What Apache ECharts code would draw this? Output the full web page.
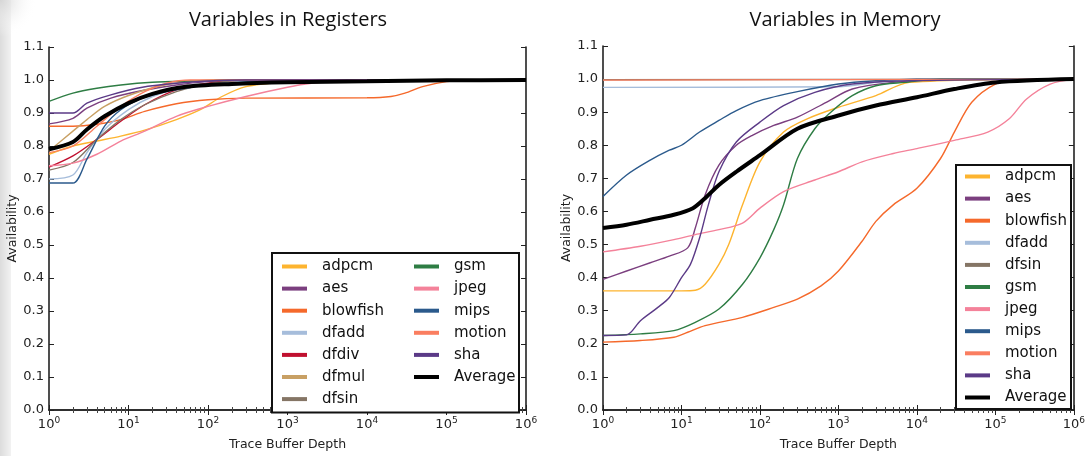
<!DOCTYPE html>
<html>
<head>
<meta charset="utf-8">
<script src="https://cdn.jsdelivr.net/npm/echarts@6/dist/echarts.min.js"></script>
<style>
  html, body { margin: 0; padding: 0; background: #fff; }
  #chart { width: 1088px; height: 456px; }
</style>
</head>
<body>
<div id="chart"></div>
<script>
// titles / axis text
const titles = ['Variables in Registers', 'Variables in Memory'];
const yTicks = [0, 0.1, 0.2, 0.3, 0.4, 0.5, 0.6, 0.7, 0.8, 0.9, 1.0, 1.1];

// [trace buffer depth, availability] -- registers
const regAdpcm = [[1,0.775],[2,0.80],[4,0.815],[8,0.83],[16,0.848],[40,0.88],[80,0.91],[150,0.95],[300,0.98],[1000,0.995],[3000,1.0],[1e6,1.0]];
const regAes = [[1,0.867],[2,0.884],[3,0.915],[6,0.945],[15,0.968],[40,0.985],[100,0.995],[300,1.0],[1e6,1.0]];
const regBlowfish = [[1,0.86],[2,0.86],[4,0.866],[8,0.88],[16,0.905],[40,0.928],[100,0.94],[300,0.945],[1e4,0.946],[2e4,0.95],[3e4,0.96],[5e4,0.98],[1e5,0.995],[2e5,1.0],[1e6,1.0]];
const regDfadd = [[1,0.70],[2,0.712],[3,0.78],[5,0.85],[10,0.91],[20,0.95],[50,0.98],[150,0.995],[500,1.0],[1e6,1.0]];
const regDfdiv = [[1,0.736],[2,0.77],[4,0.82],[8,0.875],[16,0.925],[40,0.97],[100,0.99],[300,1.0],[1e6,1.0]];
const regDfmul = [[1,0.785],[2,0.845],[3,0.88],[5,0.92],[10,0.953],[25,0.982],[80,0.998],[200,1.0],[1e6,1.0]];
const regDfsin = [[1,0.727],[2,0.75],[4,0.82],[8,0.88],[16,0.925],[40,0.965],[100,0.988],[300,1.0],[1e6,1.0]];
const regGsm = [[1,0.935],[2,0.96],[4,0.975],[8,0.985],[20,0.993],[60,0.997],[200,1.0],[1e6,1.0]];
const regJpeg = [[1,0.74],[2,0.748],[4,0.775],[8,0.815],[16,0.845],[40,0.89],[100,0.92],[300,0.95],[1000,0.978],[2000,0.99],[6000,1.0],[1e6,1.0]];
const regMips = [[1,0.688],[2,0.688],[3,0.76],[5,0.86],[8,0.91],[15,0.945],[30,0.965],[100,0.985],[500,0.997],[2000,1.0],[1e6,1.0]];
const regMotion = [[1,0.78],[2,0.80],[4,0.86],[8,0.92],[16,0.965],[30,0.99],[60,1.0],[1e6,1.0]];
const regSha = [[1,0.90],[2,0.90],[3,0.93],[6,0.955],[15,0.978],[40,0.99],[100,0.997],[300,1.0],[1e6,1.0]];
const regAverage = [[1,0.79],[2,0.812],[3,0.85],[5,0.89],[10,0.93],[20,0.958],[50,0.979],[200,0.988],[1000,0.993],[1e4,0.996],[1e5,0.999],[1e6,1.0]];

// memory
const memAdpcm = [[1,0.36],[10,0.36],[15,0.362],[20,0.38],[30,0.44],[40,0.50],[60,0.62],[100,0.75],[200,0.84],[400,0.88],[1000,0.915],[3000,0.95],[8000,0.99],[1e6,1.0]];
const memAes = [[1,0.395],[2,0.42],[4,0.445],[7,0.465],[12,0.49],[15,0.55],[20,0.65],[30,0.74],[50,0.80],[80,0.83],[150,0.86],[300,0.885],[700,0.93],[1500,0.97],[5000,0.99],[3e4,1.0],[1e6,1.0]];
const memBlowfish = [[1,0.205],[3,0.21],[8,0.22],[12,0.235],[20,0.255],[60,0.28],[150,0.31],[300,0.335],[600,0.375],[1000,0.42],[2000,0.51],[3000,0.57],[5000,0.62],[1e4,0.67],[2e4,0.76],[3e4,0.84],[5e4,0.93],[1e5,0.985],[2e5,1.0],[1e6,1.0]];
const memDfadd = [[1,0.975],[1000,0.977],[3000,0.99],[1e4,1.0],[1e6,1.0]];
const memDfsin = [[1,0.998],[1e6,1.0]];
const memGsm = [[1,0.225],[3,0.23],[8,0.24],[15,0.265],[30,0.305],[60,0.38],[100,0.46],[150,0.545],[200,0.62],[300,0.76],[500,0.85],[800,0.90],[1500,0.95],[3000,0.98],[7000,0.99],[2e4,1.0],[1e6,1.0]];
const memJpeg = [[1,0.478],[3,0.495],[8,0.515],[15,0.53],[30,0.545],[60,0.565],[100,0.61],[200,0.66],[500,0.695],[1000,0.72],[2000,0.75],[5000,0.775],[1e4,0.79],[3e4,0.815],[8e4,0.84],[1.5e5,0.88],[2.5e5,0.94],[5e5,0.985],[1e6,1.0]];
const memMips = [[1,0.645],[2,0.71],[4,0.755],[7,0.785],[10,0.80],[17,0.84],[30,0.875],[50,0.905],[100,0.935],[300,0.962],[1000,0.985],[3000,0.995],[1e4,1.0],[1e6,1.0]];
const memMotion = [[1,0.997],[1e6,1.0]];
const memSha = [[1,0.225],[2,0.227],[3,0.27],[5,0.31],[7,0.34],[10,0.40],[13,0.44],[17,0.52],[22,0.62],[30,0.72],[50,0.81],[100,0.87],[200,0.92],[500,0.96],[1500,0.985],[8000,0.995],[1e6,1.0]];
const memAverage = [[1,0.55],[2,0.56],[4,0.575],[8,0.59],[14,0.61],[20,0.64],[30,0.68],[50,0.72],[100,0.77],[300,0.85],[1000,0.89],[3000,0.92],[1e4,0.945],[3e4,0.97],[1e5,0.99],[1e6,1.0]];

const colors = {
  adpcm: '#fdb42f', aes: '#7b3f7f', blowfish: '#f5692b', dfadd: '#a6bddb',
  dfdiv: '#c0102f', dfmul: '#c8a064', dfsin: '#857565', gsm: '#2e7d44',
  jpeg: '#f4829a', mips: '#2b5a8c', motion: '#fa7e60', sha: '#5b3a87', Average: '#000'
};

const regSeries = [['adpcm',regAdpcm],['aes',regAes],['blowfish',regBlowfish],['dfadd',regDfadd],['dfdiv',regDfdiv],
  ['dfmul',regDfmul],['dfsin',regDfsin],['gsm',regGsm],['jpeg',regJpeg],['mips',regMips],['motion',regMotion],['sha',regSha],['Average',regAverage]];
const memSeries = [['adpcm',memAdpcm],['aes',memAes],['blowfish',memBlowfish],['dfadd',memDfadd],['dfsin',memDfsin],
  ['gsm',memGsm],['jpeg',memJpeg],['mips',memMips],['motion',memMotion],['sha',memSha],['Average',memAverage]];

function mkSeries(list, g) {
  return list.map(([name, data]) => ({
    name, type: 'line', data,
    xAxisIndex: g * 2, yAxisIndex: g * 2,
    symbol: 'none', smooth: 0.3,
    lineStyle: { width: name === 'Average' ? 4 : 1.4, color: colors[name] },
    itemStyle: { color: colors[name] },
    z: name === 'Average' ? 5 : 2
  }));
}

const axisColor = '#222';
const supRich = {
  b: { fontSize: 13, color: '#222', fontFamily: 'DejaVu Sans' },
  s: { fontSize: 9, color: '#222', fontFamily: 'DejaVu Sans', verticalAlign: 'top', padding: [0, 0, 8, 0] }
};

function xAxes(g) {
  const base = {
    type: 'log', logBase: 10, min: 1, max: 1e6, gridIndex: g,
    axisLine: { lineStyle: { color: axisColor, width: 1.6 } },
    axisTick: { inside: true, length: 5, lineStyle: { color: axisColor } },
    minorTick: { show: true, splitNumber: 9, length: 3, lineStyle: { color: '#444' } },
    splitLine: { show: false }
  };
  return [
    Object.assign({}, base, {
      position: 'bottom',
      name: 'Trace Buffer Depth', nameLocation: 'middle', nameGap: 28,
      nameTextStyle: { fontFamily: 'DejaVu Sans', fontSize: 12.5, color: '#222' },
      axisLabel: {
        margin: 6,
        formatter: v => '{b|10}{s|' + Math.round(Math.log10(v)) + '}',
        rich: supRich
      }
    }),
    Object.assign({}, base, { position: 'top', axisLabel: { show: false } })
  ];
}

function yAxes(g, gap) {
  const base = {
    type: 'value', min: 0, max: 1.1, interval: 0.1, gridIndex: g,
    axisLine: { show: true, lineStyle: { color: axisColor, width: 1.6 } },
    axisTick: { show: true, inside: true, length: 5, lineStyle: { color: axisColor } },
    splitLine: { show: false }
  };
  return [
    Object.assign({}, base, {
      position: 'left',
      name: 'Availability', nameLocation: 'middle', nameGap: gap,
      nameTextStyle: { fontFamily: 'DejaVu Sans', fontSize: 12.5, color: '#222' },
      axisLabel: { margin: 5, fontSize: 13, color: '#222', fontFamily: 'DejaVu Sans', formatter: v => v.toFixed(1) }
    }),
    Object.assign({}, base, { position: 'right', axisLabel: { show: false } })
  ];
}

const legendText = { fontFamily: 'DejaVu Sans', fontSize: 15, color: '#111', lineHeight: 14, padding: [0, 0, 0, 10] };
const legendBase = {
  orient: 'vertical', icon: 'rect', itemWidth: 25, itemHeight: 4, itemGap: 7.1,
  selectedMode: false
};

const chart = echarts.init(document.getElementById('chart'), null, { renderer: 'canvas' });
chart.setOption({
  animation: false,
  backgroundColor: '#fff',
  graphic: [
    {
      type: 'rect', shape: { x: 0, y: 0, width: 11, height: 456 }, silent: true, z: -10,
      style: { fill: new echarts.graphic.LinearGradient(0, 0, 1, 0, [
        { offset: 0, color: '#dcdcdc' }, { offset: 1, color: '#f2f2f2' }]) }
    },
    {
      type: 'rect', shape: { x: 0, y: 0, width: 90, height: 37 }, silent: true, z: -10,
      style: { fill: new echarts.graphic.RadialGradient(0, 0, 1, [
        { offset: 0, color: '#d6d6d6' }, { offset: 1, color: 'rgba(255,255,255,0)' }]) }
    }
  ],
  title: [
    { text: titles[0], left: 283, top: 5, textAlign: 'center',
      textStyle: { fontFamily: 'Open Sans', fontSize: 20, fontWeight: 'normal', color: '#111' } },
    { text: titles[1], left: 840, top: 5, textAlign: 'center',
      textStyle: { fontFamily: 'Open Sans', fontSize: 20, fontWeight: 'normal', color: '#111' } }
  ],
  grid: [
    { left: 49, right: 562, top: 47, bottom: 38 },
    { left: 603, right: 10, top: 46, bottom: 40 }
  ],
  xAxis: xAxes(0).concat(xAxes(1)),
  yAxis: yAxes(0, 20).concat(yAxes(1, 26)),
  legend: [
    Object.assign({}, legendBase, {
      left: 272, top: 253, padding: [6, 127, 6, 10],
      borderColor: '#111', borderWidth: 2, backgroundColor: '#fff',
      textStyle: Object.assign({ width: 70 }, legendText),
      data: ['adpcm', 'aes', 'blowfish', 'dfadd', 'dfdiv', 'dfmul', 'dfsin']
    }),
    Object.assign({}, legendBase, {
      left: 414, top: 259, padding: 0,
      textStyle: Object.assign({ width: 70 }, legendText),
      data: ['gsm', 'jpeg', 'mips', 'motion', 'sha', 'Average']
    }),
    Object.assign({}, legendBase, {
      left: 956, top: 165, padding: [4, 4, 4, 9],
      borderColor: '#111', borderWidth: 2, backgroundColor: '#fff',
      textStyle: Object.assign({ width: 62 }, legendText),
      data: ['adpcm', 'aes', 'blowfish', 'dfadd', 'dfsin', 'gsm', 'jpeg', 'mips', 'motion', 'sha', 'Average']
    })
  ],
  series: mkSeries(regSeries, 0).concat(mkSeries(memSeries, 1))
});
</script>
</body>
</html>
